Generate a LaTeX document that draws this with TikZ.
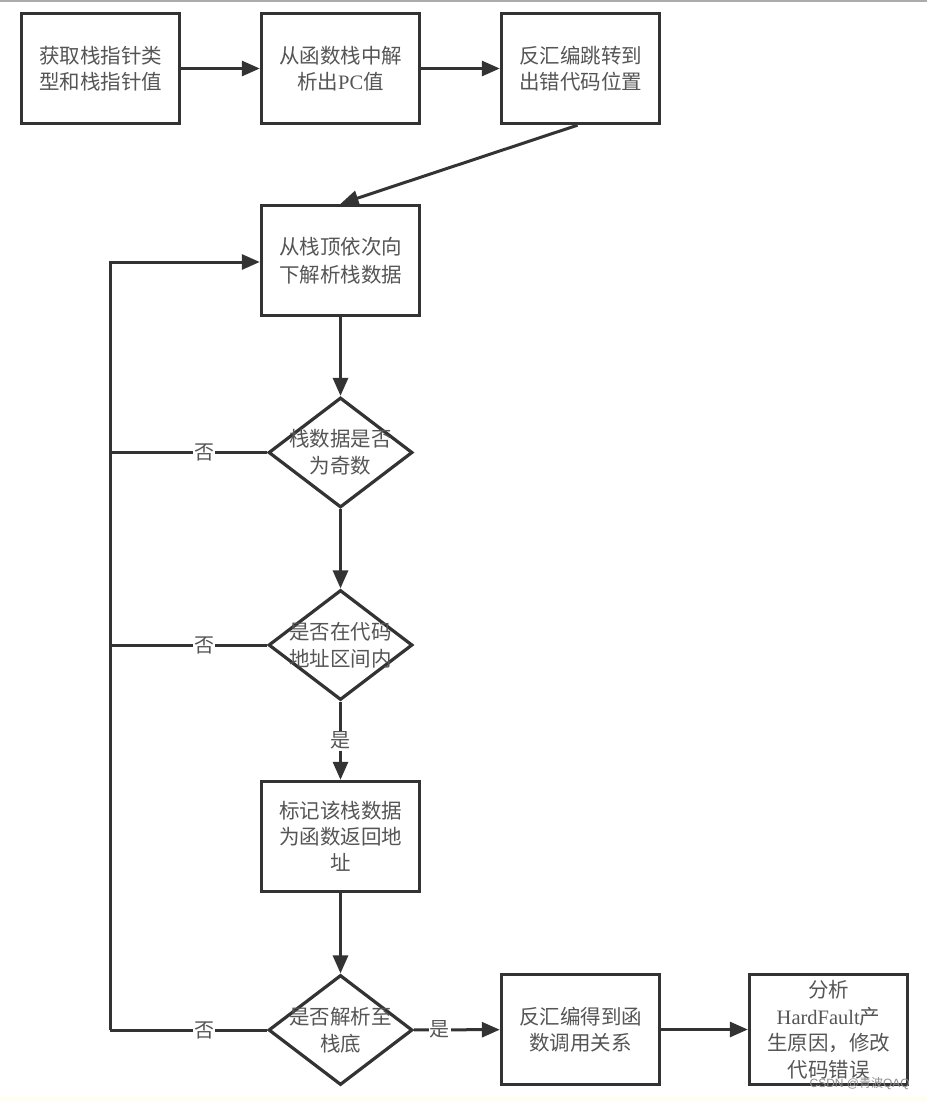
\documentclass[tikz,border=0pt]{standalone}
\usepackage{fontspec}
\setmainfont{Noto Sans CJK SC}
\newfontfamily\lat{Liberation Serif}
\newfontfamily\wm{Liberation Sans}
\usetikzlibrary{shapes.geometric,arrows.meta}
\definecolor{ln}{HTML}{333333}
\definecolor{tx}{HTML}{555555}
\begin{document}
\begin{tikzpicture}[x=1pt,y=-1pt,
  box/.style={draw=ln,line width=3.4pt,minimum width=158pt,minimum height=110pt,inner sep=0pt,
    align=center,text=tx,font=\fontsize{20.5}{26}\selectfont},
  dia/.style={draw=ln,line width=3.2pt,diamond,minimum width=144pt,minimum height=110pt,inner sep=0pt},
  dtxt/.style={text=tx,align=center,font=\fontsize{20.5}{27}\selectfont,inner sep=0pt},
  arr/.style={draw=ln,line width=3pt,-{Triangle[length=18pt,width=15pt]}},
  ln/.style={draw=ln,line width=3pt},
  lab/.style={fill=white,text=tx,font=\fontsize{20}{22}\selectfont,inner sep=1pt}]
\useasboundingbox (0,0) rectangle (927,1102);
\fill[white] (0,0) rectangle (927,1102);
\fill[black!33] (0,0) rectangle (927,2.5);
\fill[yellow!4] (0,1096) rectangle (927,1102);

\node[box] (b1) at (100.5,68.5) {获取栈指针类\\型和栈指针值};
\node[box] (b2) at (340.5,68.5) {从函数栈中解\\析出{\lat PC}值};
\node[box] (b3) at (580.5,68.5) {反汇编跳转到\\出错代码位置};
\node[box,font=\fontsize{20.5}{28}\selectfont] (b4) at (340.5,260.5) {从栈顶依次向\\下解析栈数据};
\node[dia] (d1) at (340.5,452.5) {};
\node[dtxt] at (d1.center) {栈数据是否\\为奇数};
\node[dia] (d2) at (340.5,645) {};
\node[dtxt] at (d2.center) {是否在代码\\地址区间内};
\node[box] (b5) at (340.5,836.5) {标记该栈数据\\为函数返回地\\址};
\node[dia] (d3) at (340.5,1030) {};
\node[dtxt] at (d3.center) {是否解析至\\栈底};
\node[box] (b6) at (580.5,1029.5) {反汇编得到函\\数调用关系};
\node[box,font=\fontsize{20.5}{26.5}\selectfont] (b7) at (828.5,1029.5) {分析\\{\lat HardFault}产\\生原因，修改\\代码错误};

\coordinate (L0) at (110,262);
\coordinate (L1) at (110,452.5);
\coordinate (L2) at (110,645);
\coordinate (L3) at (110,1030);

\draw[arr] (b1) -- (b2);
\draw[arr] (b2) -- (b3);
\draw[arr] (b3.south) ++(-3,0) -- (b4.north);
\draw[arr] (b4) -- (d1);
\draw[arr] (d1) -- (d2);
\draw[arr] (d2) -- node[lab]{是} (b5);
\draw[arr] (b5) -- (d3);
\draw[arr] (d3) -- node[lab,pos=0.3]{是} (b6);
\draw[arr] (b6) -- (b7);
\draw[ln] (d1.west) -- node[lab,pos=0.4]{否} (L1);
\draw[ln] (d2.west) -- node[lab,pos=0.4]{否} (L2);
\draw[ln] (d3.west) -- node[lab,pos=0.4]{否} (L3);
\draw[arr] (L3) -- (L0) -- (b4.west |- L0);

\node[text=black!45,font=\wm\fontsize{12}{12}\selectfont,inner sep=0pt,anchor=east] (wmk) at (910,1084) {CSDN @{\rmfamily 青波}QAQ};
\end{tikzpicture}
\end{document}
